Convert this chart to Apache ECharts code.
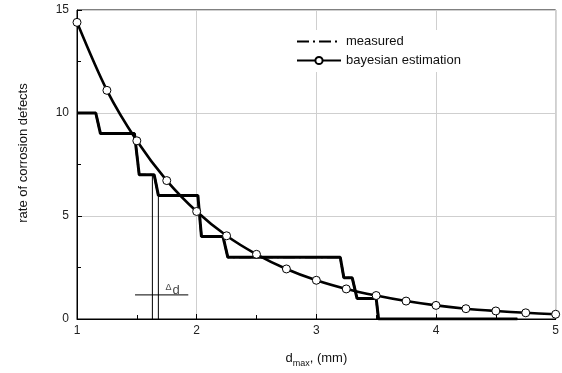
<!DOCTYPE html>
<html>
<head>
<meta charset="utf-8">
<script src="https://cdn.jsdelivr.net/npm/echarts@6/dist/echarts.min.js"></script>
<style>
  html, body { margin: 0; padding: 0; background: #fff; }
  #chart { width: 562px; height: 373px; }
</style>
</head>
<body>
<div id="chart"></div>
<script>
// bayesian estimation, every 0.25 mm
const estX = [1, 1.25, 1.5, 1.75, 2, 2.25, 2.5, 2.75, 3, 3.25, 3.5, 3.75, 4, 4.25, 4.5, 4.75, 5];
const estY = [14.4, 11.1, 8.65, 6.72, 5.22, 4.04, 3.14, 2.43, 1.88, 1.46, 1.14, 0.87, 0.66, 0.5, 0.39, 0.3, 0.23];

// measured step curve (x, rate)
const measX = [1, 1.157, 1.196, 1.48, 1.52, 1.645, 1.68, 2.01, 2.04, 2.22, 2.26, 3.2, 3.23, 3.3, 3.34, 3.5, 3.52, 4.68];
const measY = [10, 10, 9, 9, 7, 7, 6, 6, 4, 4, 3, 3, 2, 2, 1, 1, 0, 0];

// delta d annotation
const deltaLeft = [[1.63, 0], [1.63, 7]];
const deltaRight = [[1.68, 0], [1.68, 6]];
const deltaBar = [[1.485, 1.17], [1.93, 1.17]];
const deltaLabelAt = [1.8, 1.38];

const estData = estX.map((x, i) => [x, estY[i]]);
const measData = measX.map((x, i) => [x, measY[i]]);

const chart = echarts.init(document.getElementById('chart'));

const thin = { color: '#000', width: 1 };

const option = {
  animation: false,
  textStyle: { fontFamily: '"Liberation Sans", Arial, sans-serif' },
  grid: {
    left: 77, right: 1, top: 10, bottom: 52,
    show: true, borderColor: '#000', borderWidth: 1,
  },
  legend: {
    orient: 'vertical',
    left: 291,
    top: 30,
    padding: 5,
    itemGap: 6,
    itemWidth: 44,
    itemHeight: 9,
    backgroundColor: '#fff',
    textStyle: { fontSize: 13, color: '#111' },
    data: [
      { name: 'measured', itemStyle: { opacity: 0 } },
      { name: 'bayesian estimation' },
    ],
  },
  xAxis: {
    type: 'value',
    min: 1, max: 5, interval: 1,
    name: 'd{s|max}, (mm)',
    nameLocation: 'middle',
    nameGap: 30,
    nameTextStyle: {
      fontSize: 13, color: '#111',
      rich: { s: { fontSize: 9, padding: [10, 0, 0, 0], color: '#111' } },
    },
    axisLine: { lineStyle: { color: '#000' } },
    axisTick: { inside: true, length: 5, lineStyle: { color: '#000' } },
    minorTick: { show: true, splitNumber: 2, length: 4, lineStyle: { color: '#000' } },
    axisLabel: { fontSize: 12, color: '#222', margin: 6 },
    splitLine: { lineStyle: { color: '#cfcfcf' } },
  },
  yAxis: {
    type: 'value',
    min: 0, max: 15, interval: 5,
    name: 'rate of corrosion defects',
    nameLocation: 'middle',
    nameGap: 47,
    nameTextStyle: { fontSize: 13, color: '#111', padding: [0, 0, 0, 23] },
    axisLine: { lineStyle: { color: '#000' } },
    axisTick: { inside: true, length: 5, lineStyle: { color: '#000' } },
    minorTick: { show: true, splitNumber: 2, length: 4, lineStyle: { color: '#000' } },
    axisLabel: { fontSize: 12, color: '#222', margin: 8 },
    splitLine: { lineStyle: { color: '#cfcfcf' } },
  },
  series: [
    {
      name: 'delta-left', type: 'line', data: deltaLeft,
      symbol: 'none', lineStyle: thin, silent: true,
    },
    {
      name: 'delta-right', type: 'line', data: deltaRight,
      symbol: 'none', lineStyle: thin, silent: true,
    },
    {
      name: 'delta-bar', type: 'line', data: deltaBar,
      symbol: 'none', lineStyle: thin, silent: true,
    },
    {
      name: 'delta-label', type: 'scatter', data: [deltaLabelAt],
      symbolSize: 0, silent: true,
      label: {
        show: true, position: 'inside',
        formatter: '{a|Δ}{b|d}',
        rich: {
          a: { fontSize: 9, color: '#111', padding: [0, 1, 6, 0] },
          b: { fontSize: 13, color: '#111' },
        },
      },
    },
    {
      // solid body of the measured step line
      name: 'measured-body', type: 'line', data: measData,
      symbol: 'none', lineStyle: { color: '#000', width: 3 },
    },
    {
      name: 'measured', type: 'line', data: measData,
      symbol: 'none', itemStyle: { color: '#000' },
      lineStyle: { color: '#000', width: 2.2, type: [12, 4, 2, 4] },
    },
    {
      name: 'bayesian estimation', type: 'line', data: estData,
      smooth: 0.3,
      symbol: 'circle', symbolSize: 8,
      itemStyle: { color: '#fff', borderColor: '#000', borderWidth: 1 },
      lineStyle: { color: '#000', width: 2.6 },
    },
  ],
};

chart.setOption(option);
</script>
</body>
</html>
